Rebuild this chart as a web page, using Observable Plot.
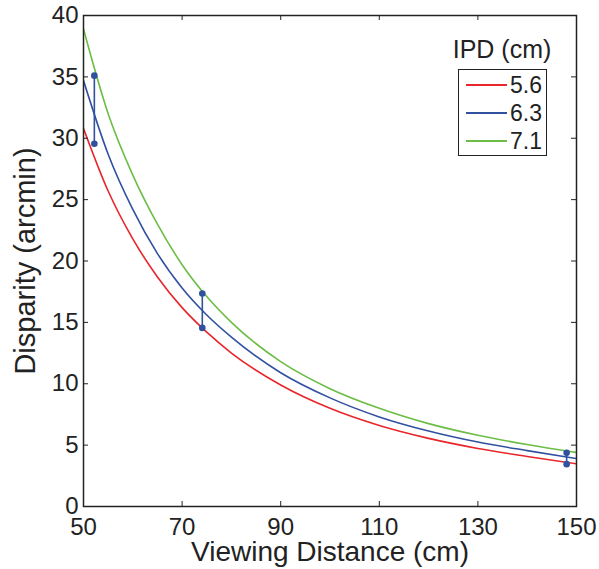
<!DOCTYPE html>
<html><head><meta charset="utf-8">
<script src="https://cdn.jsdelivr.net/npm/d3@7"></script>
<script src="https://cdn.jsdelivr.net/npm/@observablehq/plot@0.6"></script>
<style>
body{margin:0;background:#fff;}
#wrap{position:relative;width:599px;height:569px;font-family:"Liberation Sans",Arial,sans-serif;color:#222;}
#legend-title{position:absolute;left:440px;top:35px;width:124px;text-align:center;font-size:25px;line-height:normal;}
#legend{position:absolute;left:458px;top:69px;width:89px;height:87px;border:1px solid #222;background:#fff;box-sizing:border-box;}
.entry{position:absolute;left:7px;height:26px;display:flex;align-items:center;font-size:23px;}
.entry span.sw{display:inline-block;width:41px;height:2px;margin-right:3px;}
</style></head><body><div id="wrap"></div>
<script>
const distances = [50, 55, 60, 65, 70, 75, 80, 90, 100, 110, 120, 130, 140, 150];
const ipdLabels = ["5.6", "6.3", "7.1"];
const disparity56 = [30.8, 25.7, 21.8, 18.7, 16.2, 14.2, 12.5, 9.9, 8.0, 6.6, 5.55, 4.73, 4.08, 3.48];
const disparity63 = [34.7, 28.7, 24.2, 20.6, 17.8, 15.6, 13.8, 10.9, 8.85, 7.3, 6.15, 5.25, 4.55, 3.9];
const disparity71 = [38.9, 32.0, 27.0, 23.0, 19.7, 17.1, 15.0, 11.8, 9.6, 8.0, 6.75, 5.8, 5.05, 4.4];
const barDistance = [52.2, 74.1, 148.0];
const barLow = [29.55, 14.55, 3.45];
const barHigh = [35.1, 17.35, 4.37];
const xTicks = [50, 70, 90, 110, 130, 150];
const yTicks = [0, 5, 10, 15, 20, 25, 30, 35, 40];
const colors = ["#e8262b", "#3050a0", "#6cbd45"];

const series = [disparity56, disparity63, disparity71];
const rows = [];
ipdLabels.forEach((ipd, i) => distances.forEach((d, j) => rows.push({ipd, d, v: series[i][j]})));
const bars = barDistance.map((d, i) => ({d, lo: barLow[i], hi: barHigh[i]}));

const chart = Plot.plot({
  width: 599, height: 569,
  marginTop: 15, marginBottom: 63, marginLeft: 83, marginRight: 23,
  style: {fontFamily: "Liberation Sans, Arial, sans-serif", fontSize: "24px", color: "#222", background: "#fff", overflow: "visible"},
  x: {domain: [50, 150]},
  y: {domain: [0, 40]},
  color: {domain: ipdLabels, range: colors},
  marks: [
    Plot.line(rows, {x: "d", y: "v", stroke: "ipd", strokeWidth: 1.6, curve: "monotone-x", clip: true}),
    Plot.ruleX(bars, {x: "d", y1: "lo", y2: "hi", stroke: colors[1], strokeWidth: 1.6}),
    Plot.dot(bars, {x: "d", y: "lo", r: 3.3, fill: colors[1]}),
    Plot.dot(bars, {x: "d", y: "hi", r: 3.3, fill: colors[1]}),
    Plot.tickX(xTicks, {x: d => d, insetTop: 486, stroke: "#222"}),
    Plot.tickX(xTicks, {x: d => d, insetBottom: 486, stroke: "#222"}),
    Plot.tickY(yTicks, {y: d => d, insetRight: 488, stroke: "#222"}),
    Plot.tickY(yTicks, {y: d => d, insetLeft: 488, stroke: "#222"}),
    Plot.frame({stroke: "#222", strokeWidth: 1.5}),
    Plot.axisX(xTicks, {tickSize: 0, tickPadding: 11, fontSize: 24, label: null}),
    Plot.axisY(yTicks, {tickSize: 0, tickPadding: 5, fontSize: 24, label: null}),
    Plot.text(["Viewing Distance (cm)"], {frameAnchor: "bottom", lineAnchor: "top", dy: 35, fontSize: 28}),
    Plot.text(["Disparity (arcmin)"], {frameAnchor: "left", textAnchor: "middle", lineAnchor: "top", dx: -69, dy: 0, rotate: -90, fontSize: 29})
  ]
});
const wrap = document.getElementById("wrap");
wrap.appendChild(chart);

const title = document.createElement("div");
title.id = "legend-title";
title.textContent = "IPD (cm)";
wrap.appendChild(title);
const legend = document.createElement("div");
legend.id = "legend";
ipdLabels.forEach((ipd, i) => {
  const e = document.createElement("div");
  e.className = "entry";
  e.style.top = Math.round(2 + i * 27.8) + "px";
  const sw = document.createElement("span");
  sw.className = "sw";
  sw.style.background = colors[i];
  e.appendChild(sw);
  e.appendChild(document.createTextNode(ipd));
  legend.appendChild(e);
});
wrap.appendChild(legend);
</script></body></html>
